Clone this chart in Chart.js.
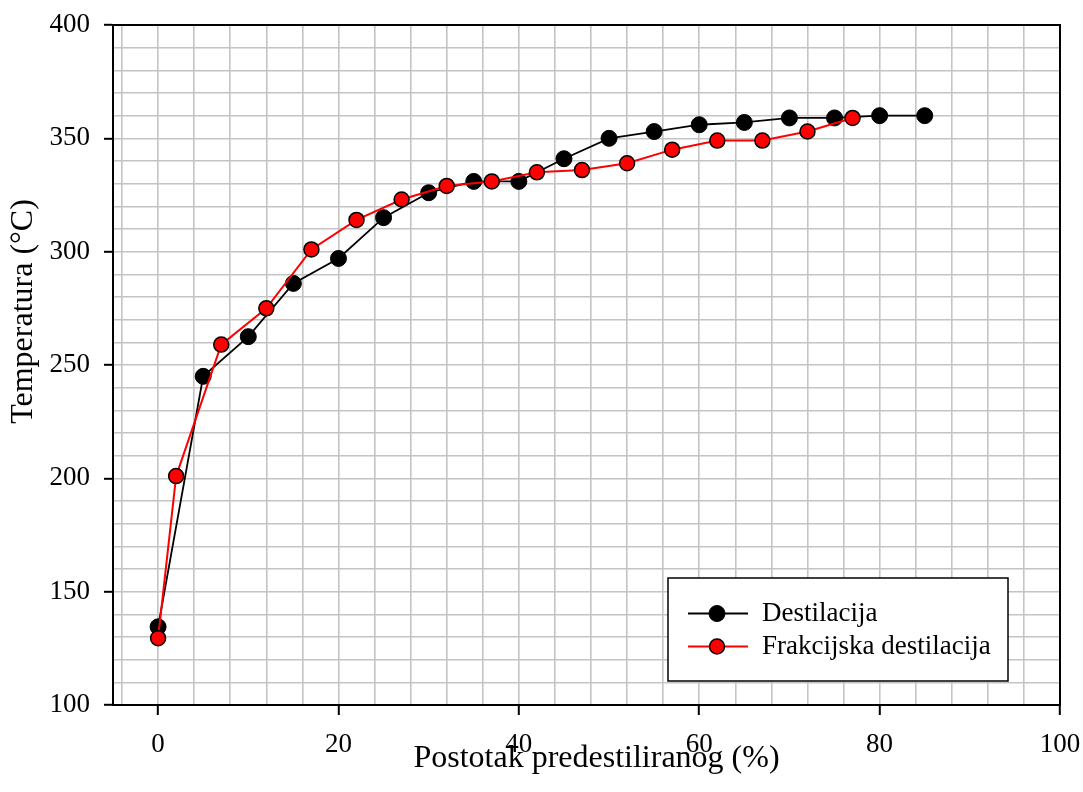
<!DOCTYPE html>
<html>
<head>
<meta charset="utf-8">
<script src="https://cdn.jsdelivr.net/npm/chart.js@4/dist/chart.umd.min.js"></script>
<style>
  html, body { margin: 0; padding: 0; background: #ffffff; }
  #wrap { width: 1083px; height: 792px; }
</style>
</head>
<body>
<div id="wrap"><canvas id="c" width="1083" height="792"></canvas></div>
<script>
// ---- Data ----
const distX = [0, 5, 10, 15, 20, 25, 30, 35, 40, 45, 50, 55, 60, 65, 70, 75, 80, 85];
const distT = [134.5, 245, 262.5, 286, 297, 315, 326, 331, 331, 341, 350, 353, 356, 357, 359, 359, 360, 360];
const fracX = [0, 2, 7, 12, 17, 22, 27, 32, 37, 42, 47, 52, 57, 62, 67, 72, 77];
const fracT = [129.5, 201, 259, 275, 301, 314, 323, 329, 331, 335, 336, 339, 345, 349, 349, 353, 359];
const seriesNames = ['Destilacija', 'Frakcijska destilacija'];
const xTickLabels = [0, 20, 40, 60, 80, 100];
const yTickLabels = [100, 150, 200, 250, 300, 350, 400];
const xGridValues = [-4, 0, 4, 8, 12, 16, 20, 24, 28, 32, 36, 40, 44, 48, 52, 56, 60, 64, 68, 72, 76, 80, 84, 88, 92, 96, 100];
const yGridValues = [100, 110, 120, 130, 140, 150, 160, 170, 180, 190, 200, 210, 220, 230, 240, 250, 260, 270, 280, 290, 300, 310, 320, 330, 340, 350, 360, 370, 380, 390, 400];
const xTitle = 'Postotak predestiliranog (%)';
const yTitle = 'Temperatura (°C)';

const FONT = '"Liberation Serif", "Times New Roman", serif';

const toPts = (xs, ys) => xs.map((x, i) => ({ x: x, y: ys[i] }));

const decorPlugin = {
  id: 'decor',
  afterDatasetsDraw(chart) {
    const ctx = chart.ctx;
    const a = chart.chartArea;
    ctx.save();
    // frame
    ctx.strokeStyle = '#000';
    ctx.lineWidth = 2;
    ctx.strokeRect(a.left, a.top, a.right - a.left, a.bottom - a.top);

    // legend box
    const bx = 668, by = 578, bw = 340, bh = 103;
    ctx.fillStyle = '#fff';
    ctx.fillRect(bx, by, bw, bh);
    ctx.strokeStyle = '#000';
    ctx.lineWidth = 1.5;
    ctx.strokeRect(bx, by, bw, bh);
    const rows = [613.5, 646.5];
    chart.data.datasets.forEach((ds, i) => {
      const y = rows[i];
      ctx.beginPath();
      ctx.strokeStyle = ds.borderColor;
      ctx.lineWidth = ds.borderWidth;
      ctx.moveTo(688, y);
      ctx.lineTo(748, y);
      ctx.stroke();
      ctx.beginPath();
      ctx.arc(717, y, ds.pointRadius, 0, Math.PI * 2);
      ctx.fillStyle = ds.pointBackgroundColor;
      ctx.fill();
      ctx.lineWidth = ds.pointBorderWidth;
      ctx.strokeStyle = ds.pointBorderColor;
      ctx.stroke();
      ctx.fillStyle = '#000';
      ctx.font = '27px ' + FONT;
      ctx.textAlign = 'left';
      ctx.textBaseline = 'middle';
      ctx.fillText(ds.label, 762, y);
    });

    // axis titles
    ctx.fillStyle = '#000';
    ctx.font = '32px ' + FONT;
    ctx.textAlign = 'center';
    ctx.textBaseline = 'alphabetic';
    ctx.fillText(xTitle, 596.5, 767);
    ctx.translate(32, 311.5);
    ctx.rotate(-Math.PI / 2);
    ctx.fillText(yTitle, 0, 0);
    ctx.restore();
  }
};

new Chart(document.getElementById('c'), {
  type: 'line',
  data: {
    datasets: [
      {
        label: seriesNames[0],
        data: toPts(distX, distT),
        borderColor: '#000000',
        borderWidth: 1.8,
        pointRadius: 8,
        pointBackgroundColor: '#000000',
        pointBorderColor: '#000000',
        pointBorderWidth: 1,
        tension: 0,
        order: 1
      },
      {
        label: seriesNames[1],
        data: toPts(fracX, fracT),
        borderColor: '#ff0000',
        borderWidth: 2,
        pointRadius: 7.5,
        pointBackgroundColor: '#ff0000',
        pointBorderColor: '#000000',
        pointBorderWidth: 1.5,
        tension: 0,
        order: 0
      }
    ]
  },
  options: {
    responsive: false,
    animation: false,
    devicePixelRatio: 1,
    events: [],
    layout: { padding: { top: 25, right: 23, left: 0, bottom: 0 } },
    plugins: { legend: { display: false }, tooltip: { enabled: false } },
    scales: {
      x: {
        type: 'linear',
        min: -5,
        max: 100,
        afterBuildTicks: (s) => { s.ticks = xGridValues.map(v => ({ value: v })); },
        afterFit: (s) => { s.height = 87; s.paddingLeft = 0; s.paddingRight = 0; },
        ticks: {
          autoSkip: false,
          maxRotation: 0,
          padding: 14,
          color: '#000',
          font: { family: FONT, size: 27 },
          callback: (v) => xTickLabels.includes(v) ? String(v) : ''
        },
        grid: {
          color: '#c4c4c4',
          lineWidth: 1.6,
          tickLength: 10,
          tickWidth: 2,
          tickColor: (c) => (c.tick && xTickLabels.includes(c.tick.value)) ? '#000' : 'rgba(0,0,0,0)'
        },
        border: { display: true, color: '#000', width: 2 }
      },
      y: {
        type: 'linear',
        min: 100,
        max: 400,
        afterBuildTicks: (s) => { s.ticks = yGridValues.map(v => ({ value: v })); },
        afterFit: (s) => { s.width = 113; s.paddingTop = 0; s.paddingBottom = 0; },
        ticks: {
          autoSkip: false,
          padding: 14,
          color: '#000',
          font: { family: FONT, size: 27 },
          callback: (v) => yTickLabels.includes(v) ? String(v) : ''
        },
        grid: {
          color: '#c4c4c4',
          lineWidth: 1.6,
          tickLength: 9,
          tickWidth: 2,
          tickColor: (c) => (c.tick && yTickLabels.includes(c.tick.value)) ? '#000' : 'rgba(0,0,0,0)'
        },
        border: { display: true, color: '#000', width: 2 }
      }
    }
  },
  plugins: [decorPlugin]
});
</script>
</body>
</html>
